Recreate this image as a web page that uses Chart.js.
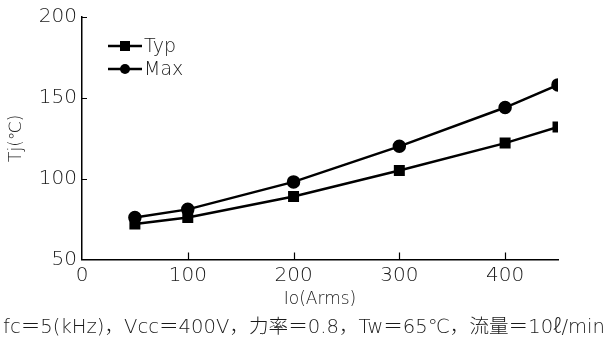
<!DOCTYPE html>
<html>
<head>
<meta charset="utf-8">
<script src="https://cdn.jsdelivr.net/npm/chart.js@4/dist/chart.umd.min.js"></script>
<style>
  html, body { margin: 0; padding: 0; background: #fff; }
  #wrap { width: 608px; height: 342px; }
</style>
</head>
<body>
<div id="wrap"><canvas id="chart" width="608" height="342"></canvas></div>
<script>
// Chart data
const currents = [50, 100, 200, 300, 400, 450];
const typValues = [72, 76, 89, 105, 122, 132];
const maxValues = [76, 81, 98, 120, 144, 158];
const xTicks = [0, 100, 200, 300, 400];
const yTicks = [50, 100, 150, 200];
const footerText = 'fc＝5(kHz)，Vcc＝400V，力率＝0.8，Tw＝65℃，流量＝10ℓ/min';

const FONT = '"DejaVu Sans", "Noto Sans CJK JP", sans-serif';
const TEXT = '#1a1a1a';

// Ticks drawn inward from the axis lines
const innerTicks = {
    id: 'innerTicks',
    afterDraw(chart) {
        const ctx = chart.ctx;
        const x = chart.scales.x, y = chart.scales.y;
        ctx.save();
        ctx.strokeStyle = '#000';
        ctx.lineWidth = 1.2;
        ctx.beginPath();
        xTicks.forEach(v => {
            if (v === 0) return;
            const px = Math.round(x.getPixelForValue(v)) + 0.5;
            ctx.moveTo(px, y.bottom);
            ctx.lineTo(px, y.bottom - 7);
        });
        yTicks.forEach(v => {
            if (v === 50) return;
            const py = Math.round(y.getPixelForValue(v)) + 0.5;
            ctx.moveTo(x.left, py);
            ctx.lineTo(x.left + 5, py);
        });
        ctx.stroke();
        ctx.restore();
    }
};

// Legend with line + marker samples
const lineLegend = {
    id: 'lineLegend',
    afterDraw(chart) {
        const ctx = chart.ctx;
        ctx.save();
        chart.data.datasets.forEach((ds, i) => {
            const yy = 46 + i * 23;
            ctx.strokeStyle = '#000';
            ctx.lineWidth = 2.5;
            ctx.beginPath();
            ctx.moveTo(108, yy);
            ctx.lineTo(142, yy);
            ctx.stroke();
            ctx.fillStyle = '#000';
            if (ds.pointStyle === 'rect') {
                ctx.fillRect(120, yy - 5, 10, 10);
            } else {
                ctx.beginPath();
                ctx.arc(125, yy, 5, 0, Math.PI * 2);
                ctx.fill();
            }
            ctx.fillStyle = TEXT;
            ctx.font = '200 19px ' + FONT;
            ctx.textBaseline = 'middle';
            ctx.fillText(ds.label, 144, yy + 1);
        });
        ctx.restore();
    }
};

new Chart(document.getElementById('chart'), {
    type: 'line',
    data: {
        datasets: [
            {
                label: 'Typ',
                data: currents.map((c, i) => ({ x: c, y: typValues[i] })),
                borderColor: '#000',
                backgroundColor: '#000',
                borderWidth: 2.5,
                pointStyle: 'rect',
                pointRadius: 6,
                pointHoverRadius: 6
            },
            {
                label: 'Max',
                data: currents.map((c, i) => ({ x: c, y: maxValues[i] })),
                borderColor: '#000',
                backgroundColor: '#000',
                borderWidth: 2.5,
                pointStyle: 'circle',
                pointRadius: 5.5,
                pointHoverRadius: 5.5
            }
        ]
    },
    options: {
        responsive: false,
        animation: false,
        layout: { padding: { top: 13, right: 0, left: 0, bottom: 2 } },
        plugins: {
            legend: { display: false },
            tooltip: { enabled: false },
            title: {
                display: true,
                position: 'bottom',
                text: footerText,
                color: TEXT,
                font: { family: FONT, size: 19.6, weight: '200' },
                padding: { top: 2, bottom: 0 }
            }
        },
        scales: {
            x: {
                type: 'linear',
                min: 0,
                max: 450,
                afterBuildTicks: s => { s.ticks = xTicks.map(v => ({ value: v })); },
                afterFit: s => { s.height = 55; },
                grid: { drawOnChartArea: false, drawTicks: false },
                border: { color: '#000', width: 1.5 },
                ticks: { color: TEXT, padding: 4, font: { family: FONT, size: 20, weight: '200' } },
                title: {
                    display: true,
                    text: 'Io(Arms)',
                    color: TEXT,
                    font: { family: FONT, size: 17, weight: '200' },
                    padding: { top: 0, bottom: 5 }
                }
            },
            y: {
                min: 50,
                max: 200,
                afterBuildTicks: s => { s.ticks = yTicks.map(v => ({ value: v })); },
                afterFit: s => { s.width = 82; },
                grid: { drawOnChartArea: false, drawTicks: false },
                border: { color: '#000', width: 1.5 },
                ticks: { color: TEXT, padding: 5, font: { family: FONT, size: 20, weight: '200' } },
                title: {
                    display: true,
                    text: 'Tj(℃)',
                    color: TEXT,
                    font: { family: FONT, size: 17, weight: '200' },
                    padding: { top: 6, bottom: 0 }
                }
            },
            // empty right-hand space so the plot ends at 450 while the footer spans the full width
            spacer: {
                position: 'right',
                min: 50,
                max: 200,
                afterFit: s => { s.width = 50; },
                grid: { display: false },
                border: { display: false },
                ticks: { display: false }
            }
        }
    },
    plugins: [innerTicks, lineLegend]
});
</script>
</body>
</html>
